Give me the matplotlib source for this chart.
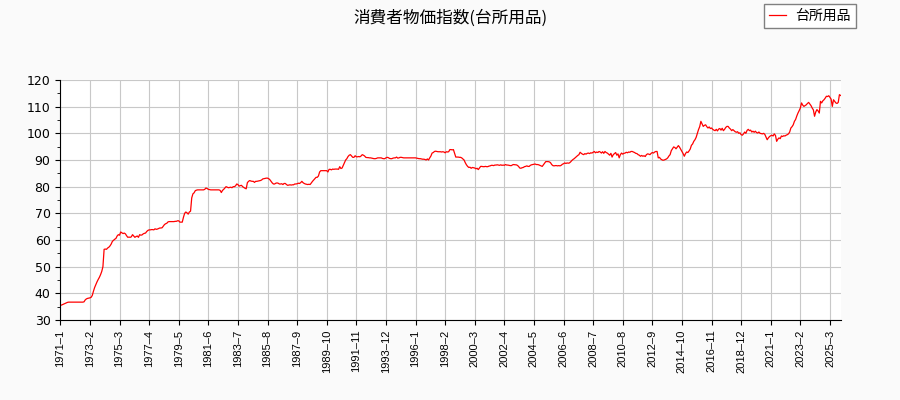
import matplotlib
matplotlib.use('Agg')
import matplotlib.pyplot as plt
from matplotlib.ticker import MultipleLocator

plt.rcParams['font.family'] = ['Noto Sans CJK JP', 'DejaVu Sans']

title = '消費者物価指数(台所用品)'
series_name = '台所用品'
start_year = 1971

# monthly index values, one row per year (1971-2025)
values = [
    35.5, 35.6, 35.8, 36.0, 36.2, 36.4, 36.6, 36.7, 36.7, 36.7, 36.7, 36.7,
    36.7, 36.7, 36.7, 36.7, 36.7, 36.7, 36.7, 36.7, 36.8, 37.5, 37.9, 38.1,
    38.2, 38.3, 38.5, 39.2, 40.8, 42.2, 43.3, 44.3, 45.2, 46.0, 47.0, 48.2,
    50.0, 56.5, 56.6, 56.5, 57.0, 57.3, 57.8, 58.5, 59.5, 59.9, 60.3, 60.6,
    61.5, 62.0, 61.8, 63.0, 62.7, 62.4, 62.6, 62.3, 61.6, 61.0, 61.1, 61.0,
    61.2, 62.0, 61.5, 61.0, 61.3, 61.5, 61.0, 62.0, 61.8, 61.9, 62.3, 62.5,
    62.6, 63.2, 63.6, 63.8, 63.8, 63.9, 63.9, 63.8, 64.2, 64.0, 64.1, 64.3,
    64.5, 64.5, 64.6, 65.2, 65.8, 66.1, 66.3, 66.8, 66.9, 66.9, 66.9, 66.9,
    66.9, 67.0, 67.0, 67.2, 67.2, 66.7, 66.7, 66.7, 68.5, 70.0, 70.5, 70.2,
    69.7, 70.5, 70.8, 75.8, 77.3, 77.7, 78.5, 78.7, 78.8, 78.8, 78.8, 78.8,
    78.8, 78.8, 79.0, 79.5, 79.3, 79.0, 78.9, 78.8, 78.8, 78.8, 78.8, 78.8,
    78.8, 78.8, 78.8, 78.6, 77.8, 78.6, 79.0, 79.5, 80.0, 79.8, 79.6, 79.7,
    79.8, 79.6, 80.0, 80.0, 80.3, 81.0, 80.8, 80.2, 80.4, 80.5, 80.0, 79.7,
    79.4, 79.2, 81.5, 82.0, 82.3, 82.1, 82.0, 82.0, 81.6, 82.0, 82.0, 82.1,
    82.2, 82.3, 82.5, 82.9, 83.0, 83.1, 83.2, 83.2, 83.0, 82.6, 82.0, 81.4,
    81.0, 81.0, 81.3, 81.4, 81.3, 81.0, 81.0, 81.1, 80.8, 81.2, 81.2, 80.8,
    80.5, 80.6, 80.7, 80.6, 80.7, 80.7, 81.0, 81.0, 81.1, 81.3, 81.2, 81.5,
    82.0, 81.5, 81.2, 81.0, 80.9, 80.8, 80.9, 80.8, 81.4, 82.0, 82.5, 83.0,
    83.5, 83.5, 84.0, 85.5, 86.0, 86.0, 86.0, 86.0, 86.0, 86.0, 85.5, 86.5,
    86.5, 86.3, 86.6, 86.5, 86.6, 86.6, 86.6, 86.5, 87.5, 86.8, 87.0, 88.0,
    89.0, 90.0, 90.5, 91.3, 91.8, 92.0, 91.5, 91.0, 91.0, 91.6, 91.2, 91.2,
    91.3, 91.2, 91.5, 92.0, 91.8, 91.5, 91.0, 90.9, 90.9, 90.8, 90.8, 90.7,
    90.6, 90.5, 90.5, 90.6, 90.8, 90.8, 90.8, 90.8, 90.6, 90.5, 90.5, 90.8,
    91.0, 90.9, 90.6, 90.5, 90.5, 90.7, 90.8, 90.8, 91.1, 90.7, 90.8, 91.0,
    91.0, 90.9, 90.8, 90.8, 90.8, 90.8, 90.8, 90.8, 90.8, 90.8, 90.8, 90.8,
    90.8, 90.7, 90.6, 90.5, 90.5, 90.4, 90.3, 90.3, 90.2, 90.0, 90.4, 90.0,
    90.8, 91.5, 92.6, 92.8, 93.2, 93.3, 93.2, 93.1, 93.1, 93.1, 93.0, 93.1,
    93.0, 92.7, 93.1, 93.0, 93.1, 93.9, 93.9, 93.8, 93.9, 92.5, 91.1, 91.1,
    91.1, 91.0, 91.0, 90.8, 90.4, 90.0, 89.0, 88.2, 87.6, 87.2, 87.3, 86.9,
    87.2, 87.1, 87.0, 86.7, 86.9, 86.4, 87.0, 87.6, 87.6, 87.5, 87.5, 87.6,
    87.5, 87.5, 87.7, 87.8, 88.0, 88.0, 87.9, 88.1, 88.1, 88.2, 88.1, 88.0,
    88.2, 88.0, 88.1, 88.0, 88.3, 88.1, 88.1, 88.0, 87.9, 87.9, 88.2, 88.3,
    88.2, 88.2, 88.0, 87.6, 87.0, 86.9, 87.1, 87.2, 87.5, 87.6, 87.8, 87.6,
    87.6, 88.0, 88.2, 88.3, 88.4, 88.5, 88.3, 88.3, 88.2, 88.0, 87.8, 87.6,
    88.2, 88.8, 89.4, 89.4, 89.4, 89.3, 89.0, 88.3, 87.9, 87.8, 87.9, 87.9,
    87.8, 87.9, 87.8, 88.0, 88.4, 88.6, 88.9, 88.7, 88.9, 88.8, 88.9, 89.3,
    89.8, 90.2, 90.5, 90.9, 91.3, 91.7, 92.0, 92.9, 92.5, 92.2, 92.0, 92.4,
    92.2, 92.5, 92.6, 92.4, 92.7, 92.6, 92.9, 93.2, 92.7, 93.0, 92.8, 93.2,
    93.0, 92.6, 93.1, 92.5, 93.2, 92.8, 92.6, 92.2, 91.8, 92.5, 91.1, 92.0,
    92.4, 92.8, 91.8, 92.3, 90.8, 92.0, 92.6, 92.2, 92.5, 92.6, 92.9, 92.7,
    93.0, 92.9, 93.2, 93.2, 93.0, 92.8, 92.5, 92.4, 92.0, 91.8, 91.4, 91.7,
    91.4, 91.6, 91.3, 92.0, 92.3, 92.2, 92.0, 92.5, 92.8, 92.6, 93.0, 93.2,
    93.2, 90.8, 91.0, 90.4, 90.1, 89.9, 90.0, 90.2, 90.4, 90.8, 91.5, 92.0,
    93.5, 94.2, 94.9, 94.7, 94.2, 94.8, 95.4, 94.8, 94.0, 93.2, 92.4, 91.4,
    92.4, 93.0, 92.8, 93.4, 94.1, 95.5, 96.0, 97.0, 97.6, 98.5, 100.0, 101.4,
    102.5, 104.5, 103.5, 102.6, 103.0, 103.2, 102.5, 102.0, 102.4, 101.8, 102.0, 101.5,
    101.2, 101.0, 101.5, 100.9, 101.6, 101.8, 101.2, 101.9, 101.0, 101.5, 102.2, 102.6,
    102.6, 102.0, 101.6, 101.0, 101.4, 101.0, 100.6, 100.4, 100.6, 100.0, 100.2, 99.5,
    99.3, 99.8, 100.5, 100.0, 101.1, 101.5, 101.0, 101.2, 100.5, 100.8, 100.4, 100.8,
    100.3, 100.1, 100.5, 100.0, 99.9, 99.8, 100.0, 99.6, 98.6, 97.6, 98.3, 98.8,
    99.1, 99.3, 99.0, 99.8, 99.2, 97.0, 97.8, 98.3, 98.0, 99.0, 98.8, 99.1,
    99.0, 99.3, 99.5, 99.8, 100.5, 102.0, 102.5, 103.2, 104.5, 105.2, 106.5, 107.6,
    108.5, 109.5, 111.4, 110.6, 110.1, 110.4, 110.7, 111.2, 111.6, 111.0, 110.4, 109.5,
    108.8, 106.4, 108.0, 108.9, 108.4, 107.6, 112.0, 111.4, 112.2, 112.6, 113.2, 113.9,
    113.8, 114.1, 113.5, 112.8, 110.1, 112.6, 112.0, 111.4, 111.2, 111.6, 114.5, 114.2,
]

labels = ['%d\u2013%d' % (start_year + i // 12, i % 12 + 1) for i in range(len(values))]
x = list(range(len(values)))

fig = plt.figure(figsize=(9, 4), dpi=100, facecolor='#fafafa')
ax = fig.add_axes([0.067, 0.2, 0.867, 0.6])
ax.set_facecolor('white')

line, = ax.plot(x, values, color='red', linewidth=0.9, label=series_name)

ax.set_xlim(0, len(values) - 1)
ax.set_ylim(30, 120)
ax.yaxis.set_major_locator(MultipleLocator(10))
ax.yaxis.set_minor_locator(MultipleLocator(5))

tick_pos = x[::25]
ax.set_xticks(tick_pos)
ax.set_xticklabels([labels[i] for i in tick_pos], rotation=90, fontsize=8,
                   family='Liberation Sans')
for t in ax.get_yticklabels():
    t.set_fontsize(9)
    t.set_family('DejaVu Sans')

ax.grid(True, which='major', color='#c8c8c8', linewidth=0.8)
ax.set_axisbelow(True)
for side in ['top', 'right']:
    ax.spines[side].set_visible(False)

fig.suptitle(title, fontsize=12, y=0.975)
fig.legend(handles=[line], loc='upper right', bbox_to_anchor=(0.951, 0.99),
           borderaxespad=0, fontsize=10, fancybox=False, edgecolor='#808080',
           framealpha=1, handlelength=1.2, handletextpad=0.7, borderpad=0.35)

plt.savefig('out.png', dpi=100, facecolor=fig.get_facecolor())
plt.close()
